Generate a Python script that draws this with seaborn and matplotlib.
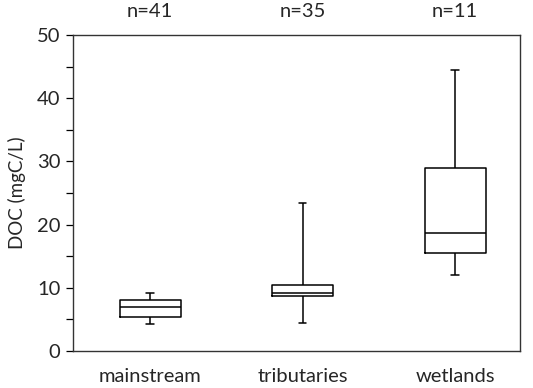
import numpy as np
import pandas as pd
import seaborn as sns
from matplotlib import pyplot as plt
from matplotlib.ticker import MultipleLocator

# five-number summaries (min, q1, median, q3, max)
sites = ["mainstream", "tributaries", "wetlands"]
n_obs = [41, 35, 11]
doc_mainstream = [4.2, 5.4, 6.9, 8.1, 9.1]
doc_tributaries = [4.5, 8.7, 9.2, 10.4, 23.4]
doc_wetlands = [12.0, 15.5, 18.6, 28.9, 44.4]

df = pd.DataFrame({
    "site": np.repeat(sites, 5),
    "doc": doc_mainstream + doc_tributaries + doc_wetlands,
})

sns.set_style("white")
plt.rcParams["font.family"] = ["Lato", "DejaVu Sans"]

fig = plt.figure(figsize=(5.33, 3.88), dpi=100)
ax = fig.add_axes([73 / 533, 1 - 351 / 388, 447 / 533, 316 / 388])

line = dict(color="black", linewidth=1.1)
sns.boxplot(
    data=df, x="site", y="doc", order=sites, ax=ax,
    whis=(0, 100), width=0.4, fill=False, color="black",
    boxprops=line, whiskerprops=line, capprops=line, medianprops=line,
    showfliers=False, capwidths=0.05,
)

ax.set_ylim(0, 50)
ax.set_xlim(-0.505, 2.426)
ax.yaxis.set_major_locator(MultipleLocator(10))
ax.yaxis.set_minor_locator(MultipleLocator(5))
ax.tick_params(axis="y", which="both", left=True, length=5, width=0.9, color="black", labelsize=14.5, pad=4)
ax.tick_params(axis="x", bottom=False, labelsize=14.5, pad=9)
ax.set_xlabel("")
ax.set_ylabel("DOC (mgC/L)", fontsize=13.5, labelpad=8)
for s in ax.spines.values():
    s.set_color("#333333")
    s.set_linewidth(1.0)

for i, n in enumerate(n_obs):
    ax.text(i, 50 + 2.3, f"n={n}", ha="center", va="bottom", fontsize=14.5)

fig.savefig("out.png", dpi=100)
